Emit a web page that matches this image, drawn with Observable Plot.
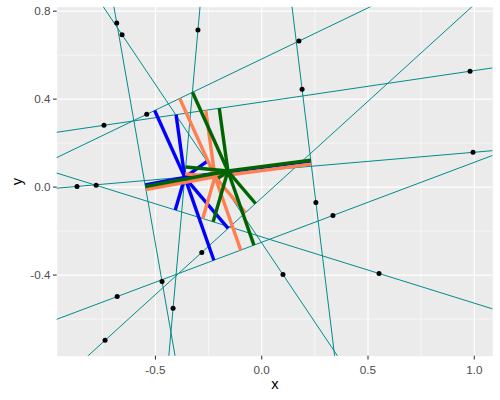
<!DOCTYPE html>
<html><head><meta charset="utf-8">
<script src="https://cdn.jsdelivr.net/npm/d3@7"></script>
<script src="https://cdn.jsdelivr.net/npm/@observablehq/plot@0.6"></script>
<style>body{margin:0;background:#fff}</style>
</head><body><div id="chart"></div>
<script>
// points
const pointX = [-0.682,-0.657,-0.300,-0.742,-0.541,-0.869,-0.779,0.175,0.190,0.980,0.994,-0.282,-0.469,-0.680,-0.417,-0.737,0.255,0.335,0.100,0.552];
const pointY = [0.746,0.693,0.714,0.281,0.331,0.003,0.008,0.664,0.445,0.527,0.158,-0.297,-0.429,-0.498,-0.551,-0.697,-0.070,-0.129,-0.398,-0.393];
// each teal line passes through a pair of points (indices)
const lineFrom = [13,15,0,2,3,4,8,5,6,1];
const lineTo   = [17,11,12,14,9,7,16,10,19,18];
// centres of the three stars
const centerName = ["A","B","C"];
const centerX = [-0.362,-0.220,-0.159];
const centerY = [0.044,0.047,0.073];
const centerColor = ["#0000FF","#FF7F50","#006400"];
// ticks
const xTicks = [-0.5,0,0.5,1];
const xTickLabels = ["-0.5","0.0","0.5","1.0"];
const xMinor = [-0.75,-0.25,0.25,0.75];
const yTicks = [-0.4,0,0.4,0.8];
const yTickLabels = ["-0.4","0.0","0.4","0.8"];
const yMinor = [-0.6,-0.2,0.2,0.6];

const pts = pointX.map((x,i)=>({x, y:pointY[i]}));
const lines = lineFrom.map((a,k)=>({k, x1:pointX[a], y1:pointY[a], x2:pointX[lineTo[k]], y2:pointY[lineTo[k]]}));
const longLines = lines.map(l=>{const dx=l.x2-l.x1, dy=l.y2-l.y1, t=40; return {x1:l.x1-dx*t,y1:l.y1-dy*t,x2:l.x1+dx*t,y2:l.y1+dy*t};});
const spokes = [];
centerName.forEach((c,j)=>{
  const cx=centerX[j], cy=centerY[j];
  lines.forEach(l=>{
    const dx=l.x2-l.x1, dy=l.y2-l.y1;
    const t=((cx-l.x1)*dx+(cy-l.y1)*dy)/(dx*dx+dy*dy);
    spokes.push({c, x1:cx, y1:cy, x2:l.x1+t*dx, y2:l.y1+t*dy});
  });
});
const xe = d3.extent(pointX), ye = d3.extent(pointY);
const xr = xe[1]-xe[0], yr = ye[1]-ye[0];

const chart = Plot.plot({
  width: 500, height: 400,
  marginLeft: 56.7, marginRight: 7.7, marginTop: 6.7, marginBottom: 44.3,
  style: {fontFamily: "Liberation Sans, Arial, sans-serif", background: "white"},
  x: {domain: [xe[0]-0.05*xr, xe[1]+0.05*xr], axis: null},
  y: {domain: [ye[0]-0.05*yr, ye[1]+0.05*yr], axis: null},
  color: {domain: centerName, range: centerColor},
  marks: [
    Plot.frame({fill: "#EBEBEB", stroke: "none"}),
    Plot.ruleX(xMinor, {stroke: "white", strokeWidth: 0.6}),
    Plot.ruleY(yMinor, {stroke: "white", strokeWidth: 0.6}),
    Plot.ruleX(xTicks, {stroke: "white", strokeWidth: 1.2}),
    Plot.ruleY(yTicks, {stroke: "white", strokeWidth: 1.2}),
    Plot.link(longLines, {x1:"x1", y1:"y1", x2:"x2", y2:"y2", stroke: "#008B8B", strokeWidth: 1, clip: true}),
    Plot.dot(pts, {x:"x", y:"y", r: 2.5, fill: "black", stroke: "none"}),
    Plot.link(spokes, {x1:"x1", y1:"y1", x2:"x2", y2:"y2", stroke: "c", strokeWidth: 3.4, strokeLinecap: "butt", clip: true}),
    Plot.axisX(xTicks, {label: null, tickSize: 3.7, tickPadding: 6, fontSize: 11.7, color: "#4D4D4D", stroke: "#333333", strokeWidth: 1.07, tickFormat: d => xTickLabels[xTicks.indexOf(d)]}),
    Plot.axisY(yTicks, {label: null, tickSize: 3.7, tickPadding: 3, fontSize: 11.7, color: "#4D4D4D", stroke: "#333333", strokeWidth: 1.07, tickFormat: d => yTickLabels[yTicks.indexOf(d)]}),
    Plot.text(["x"], {frameAnchor: "bottom", dy: 32.6, fontSize: 14.7, fill: "black", text: d => d}),
    Plot.text(["y"], {frameAnchor: "left", dx: -40, rotate: -90, textAnchor: "middle", fontSize: 14.7, fill: "black", text: d => d})
  ]
});
document.getElementById("chart").appendChild(chart);
</script>
</body></html>
